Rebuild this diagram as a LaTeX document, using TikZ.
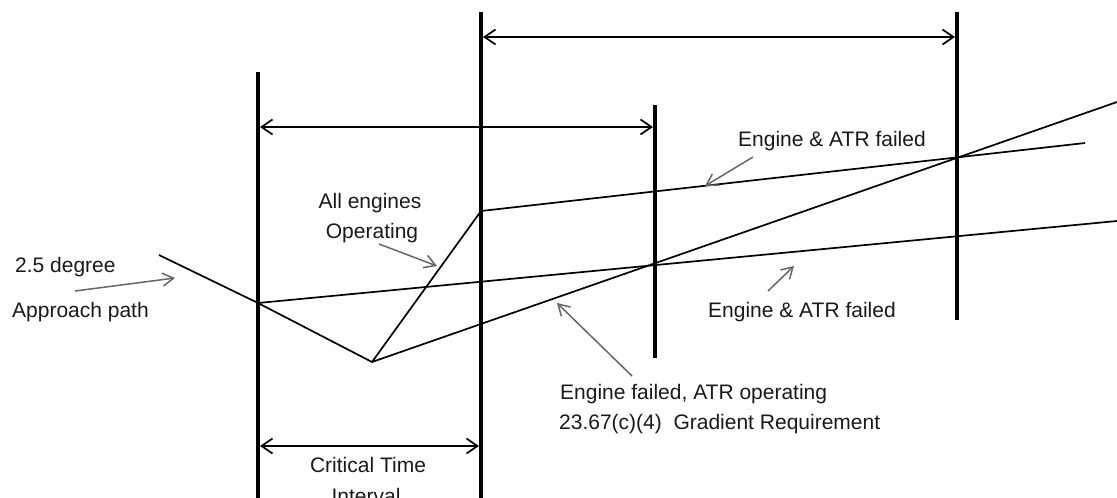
\documentclass[tikz,border=0pt]{standalone}
\usepackage{fontspec}
\setmainfont{Liberation Sans}
\usetikzlibrary{arrows.meta}
\begin{document}
\begin{tikzpicture}[x=1pt,y=-1pt,
  vbar/.style={line width=3.6pt},
  pathline/.style={line width=1.7pt, line join=miter},
  dimarrow/.style={line width=1.7pt,
    {Straight Barb[length=11pt,width=15pt]}-{Straight Barb[length=11pt,width=15pt]}},
  note/.style={draw=black!60, line width=1.5pt,
    -{Straight Barb[length=11pt,width=13pt]}},
  lbl/.style={font=\fontsize{21}{30}\selectfont, inner sep=0pt, text=black!90}]
\useasboundingbox (0,0) rectangle (1117,498);

% vertical bars
\coordinate (v1t) at (258,72);  \coordinate (v1b) at (258,505);
\coordinate (v2t) at (481,12);  \coordinate (v2b) at (481,505);
\coordinate (v3t) at (655,105); \coordinate (v3b) at (655,358);
\coordinate (v4t) at (957,12);  \coordinate (v4b) at (957,320);
\draw[vbar] (v1t) -- (v1b);
\draw[vbar] (v2t) -- (v2b);
\draw[vbar] (v3t) -- (v3b);
\draw[vbar] (v4t) -- (v4b);

% dimension arrows
\coordinate (d1a) at (483,37);  \coordinate (d1b) at (955,37);
\coordinate (d2a) at (260,127); \coordinate (d2b) at (653,127);
\coordinate (d3a) at (260,446); \coordinate (d3b) at (479,446);
\draw[dimarrow] (d1a) -- (d1b);
\draw[dimarrow] (d2a) -- (d2b);
\draw[dimarrow] (d3a) -- (d3b);

% flight paths
\coordinate (A0) at (159,255);
\coordinate (A)  at (258,303);
\coordinate (B)  at (372,362);
\coordinate (C)  at (481,211);
\coordinate (D)  at (1085,143);
\coordinate (E)  at (1117,102);
\coordinate (F)  at (1117,221);
\draw[pathline] (A0) -- (A) -- (B) -- (C) -- (D);
\draw[pathline] (B) -- (E);
\draw[pathline] (A) -- (F);

% labels
\node[lbl, anchor=base west] (deg) at (15,272) {2.5 degree};
\node[lbl, anchor=base west] (app) at (12,317) {Approach path};
\node[lbl, anchor=base] (all) at (370,208) {All engines};
\node[lbl, anchor=base] (ope) at (372,238) {Operating};
\node[lbl, anchor=base west] (eaf1) at (738,146) {Engine \& ATR failed};
\node[lbl, anchor=base west] (eaf2) at (708,317) {Engine \& ATR failed};
\node[lbl, anchor=base west] (efa) at (560,399) {Engine failed, ATR operating};
\node[lbl, anchor=base west] (grad) at (559,429) {23.67(c)(4)\ \ Gradient Requirement};
\node[lbl, anchor=base] (crit) at (368,472) {Critical Time};
\node[lbl, anchor=base] (intv) at (366,503) {Interval};

% annotation arrows
\coordinate (n1s) at (75,291);  \coordinate (n1e) at (175,278);
\coordinate (n2s) at (379,244); \coordinate (n2e) at (437,266);
\coordinate (n3s) at (753,157); \coordinate (n3e) at (705,186);
\coordinate (n4s) at (768,291); \coordinate (n4e) at (794,266);
\coordinate (n5s) at (632,376); \coordinate (n5e) at (557,303);
\draw[note] (n1s) -- (n1e);
\draw[note] (n2s) -- (n2e);
\draw[note] (n3s) -- (n3e);
\draw[note] (n4s) -- (n4e);
\draw[note] (n5s) -- (n5e);
\end{tikzpicture}
\end{document}
